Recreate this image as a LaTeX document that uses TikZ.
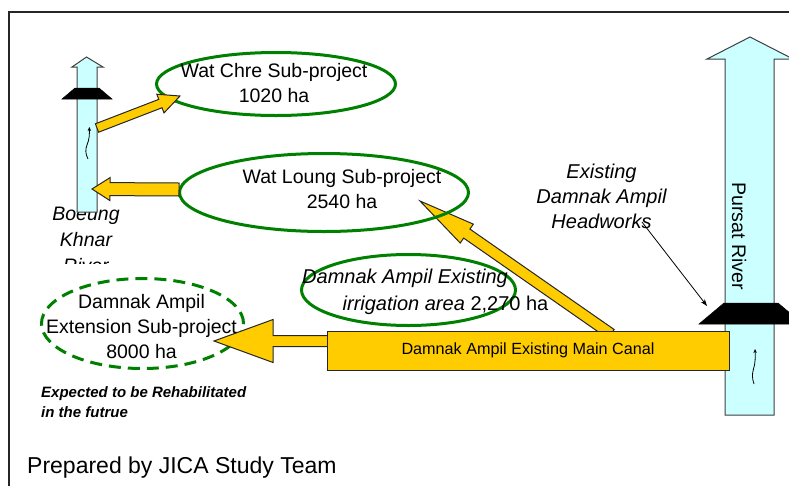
\documentclass[tikz,border=0pt]{standalone}
\usepackage{fontspec}
\setmainfont{Liberation Sans}
\usetikzlibrary{calc,shapes.geometric,arrows.meta}

\definecolor{canalyellow}{HTML}{FFCC00}
\definecolor{riverblue}{HTML}{CCFFFF}
\definecolor{areagreen}{HTML}{008000}

% Broad block arrow from #1 (tail) to #2 (tip):
% #3 half shaft width, #4 half head width, #5 head length
\newcommand\fatarrow[5]{%
  \coordinate (fa-h) at ($(#2)!#5!(#1)$);
  \draw[canal] ($(#1)!#3!90:(#2)$) -- ($(fa-h)!#3!90:(#2)$) -- ($(fa-h)!#4!90:(#2)$)
    -- (#2) -- ($(fa-h)!#4!-90:(#2)$) -- ($(fa-h)!#3!-90:(#2)$) -- ($(#1)!#3!-90:(#2)$) -- cycle;}

\begin{document}
\begin{tikzpicture}[x=1pt,y=-1pt,
  river/.style={fill=riverblue, draw=black!75, line width=1pt},
  gate/.style={fill=black, draw=black, line width=0.5pt},
  canal/.style={fill=canalyellow, draw=black!85, line width=1pt},
  area/.style={ellipse, draw=areagreen, line width=3pt, inner sep=0pt},
  planned/.style={area, dash pattern=on 12pt off 7pt},
  % multi-line labels are placed by the baseline of their last line
  txt/.style={align=center, anchor=base, inner sep=0pt,
    font=\fontsize{19.5}{25}\selectfont},
  flow/.style={line width=0.8pt, -{Stealth[length=4pt,width=3.5pt]}},
  pointer/.style={line width=0.8pt, -{Stealth[length=7pt,width=5pt]}}]

\useasboundingbox (0,0) rectangle (789,485);
\fill[white] (0,0) rectangle (789,485);

% frame
\draw[line width=2pt, black!85] (9,490) -- (9,12) -- (792,12);

% Boeung Khnar label (last line cut off)
\begin{scope}
  \clip (0,195) rectangle (200,263);
  \node[txt, font=\fontsize{19.5}{26}\selectfont\itshape] (boeung) at (86,272) {Boeung\\Khnar\\River};
\end{scope}

% Boeung Khnar river and its gate
\draw[river] (77,212) -- (77,67) -- (72,67) -- (86.5,57) -- (103,67) -- (97,67) -- (97,212) -- cycle;
\draw[gate] (75,88) -- (99,88) -- (112,99) -- (62,99) -- cycle;
\draw[flow] (88,159) .. controls (85,153) and (85.5,149) .. (87,145)
  .. controls (89.5,139) and (89.5,134) .. (89.3,127);

% Pursat river and the Damnak Ampil headworks
\draw[river] (725,415) -- (725,59) -- (707,59) -- (750,37) -- (793,59) -- (774,59) -- (774,415) -- cycle;
\node[txt, anchor=center, rotate=-90, font=\fontsize{19.6}{24}\selectfont] (pursat) at (739,236) {Pursat River};
\draw[gate] (724,303) -- (778,303) -- (803,324) -- (699,324) -- cycle;
\draw[flow] (754,384) .. controls (752,378) and (752,374) .. (753.5,369)
  .. controls (755.5,363) and (755.3,356) .. (755,349);

% irrigation areas
\node[area, minimum width=239pt, minimum height=63pt] (chre) at (276,84) {};
\node[area, minimum width=214pt, minimum height=71pt] (existing) at (408.5,290) {};
\node[planned, minimum width=202pt, minimum height=90pt] (extension) at (142.5,323.5) {};

% arrow end points
\coordinate (chre-out) at (97,128);
\coordinate (chre-in) at (180,96);
\coordinate (loung-out) at (179,189.5);
\coordinate (loung-in) at (92,189);
\coordinate (ext-out) at (330,341);
\coordinate (ext-in) at (214,341);
\coordinate (diag-out) at (611,334);
\coordinate (diag-in) at (420,201);

% supply arrows
\fatarrow{chre-out}{chre-in}{4.5pt}{10pt}{21pt}
\fatarrow{diag-out}{diag-in}{5.5pt}{11.5pt}{57pt}
\node[area, minimum width=289pt, minimum height=78pt] (loung) at (324,192.5) {};
\fatarrow{loung-out}{loung-in}{6.5pt}{11.5pt}{18pt}
\fatarrow{ext-out}{ext-in}{5.5pt}{21.5pt}{59pt}

% main canal
\node[canal, minimum width=402pt, minimum height=39pt, inner sep=0pt,
  font=\fontsize{16.2}{20}\selectfont] (main) at (528,350.5) {\raisebox{-1.2pt}{Damnak Ampil Existing Main Canal}};

% area labels
\node[txt] (chre-t) at (274,102) {Wat Chre Sub-project\\1020 ha};
\node[txt] (loung-t) at (342,208) {Wat Loung Sub-project\\2540 ha};
\node[txt, font=\fontsize{20}{25}\selectfont\itshape] (existing-a) at (405,283) {Damnak Ampil Existing};
\node[txt, font=\fontsize{20}{25}\selectfont] (existing-b) at (445.5,310) {\textit{irrigation area} 2,270 ha};
\node[txt] (extension-t) at (141.5,358) {Damnak Ampil\\Extension Sub-project\\8000 ha};

% headworks label and pointer
\node[txt, font=\fontsize{20}{25}\selectfont\itshape] (headworks) at (601.5,228) {Existing\\Damnak Ampil\\Headworks};
\coordinate (hw-from) at (642,222);
\coordinate (hw-to) at (707,306);
\draw[pointer] (hw-from) -- (hw-to);

% notes
\node[anchor=base west, align=left, inner sep=0pt,
  font=\fontsize{15}{20}\selectfont\bfseries\itshape] (note) at (41,417)
  {Expected to be Rehabilitated\\in the futrue};
\node[anchor=base west, inner sep=0pt, font=\fontsize{23}{28}\selectfont] (credit) at (27,473)
  {Prepared by JICA Study Team};
\end{tikzpicture}
\end{document}
